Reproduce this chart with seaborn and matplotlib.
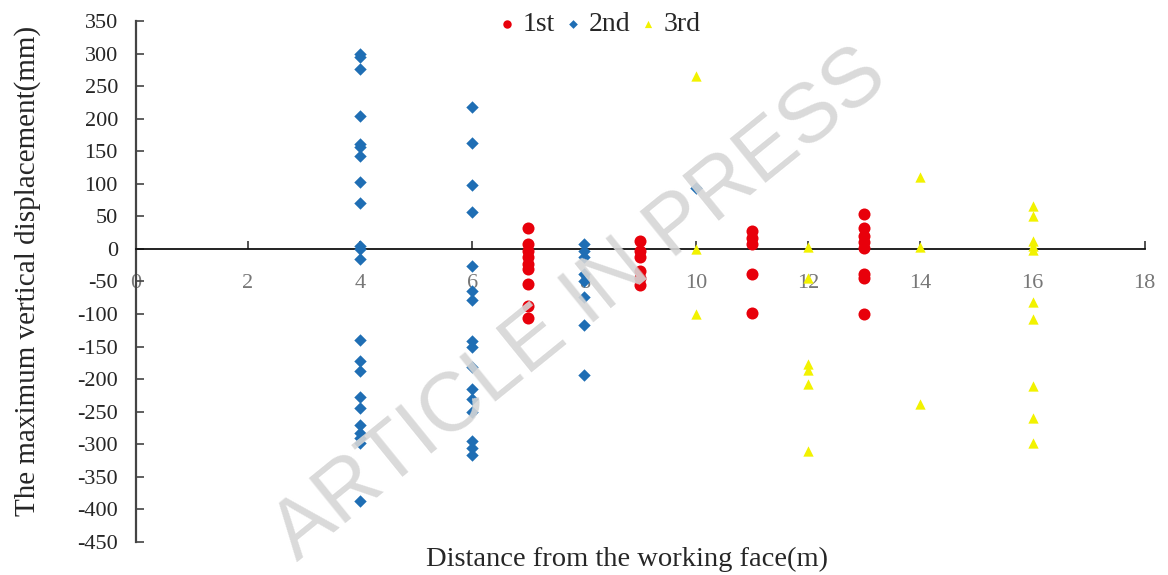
import matplotlib
matplotlib.use("Agg")
import matplotlib.pyplot as plt
import seaborn as sns
import pandas as pd

# Maximum vertical displacement readings (mm) by distance from the working face (m)
first_x = [7] * 9 + [9] * 6 + [11] * 5 + [13] * 8
first_y = [32, 8, -3, -13, -23, -31, -54, -88, -106,
           12, -3, -13, -34, -44, -55,
           27, 17, 7, -38, -98,
           54, 32, 20, 10, 2, -38, -45, -100]

second_x = [4] * 22 + [6] * 16 + [8] * 8 + [10]
second_y = [299, 294, 277, 204, 161, 156, 143, 102, 70, 5, 0, -15,
            -140, -172, -187, -228, -244, -270, -282, -290, -298, -387,
            218, 162, 98, 56, -26, -64, -78, -141, -150, -182, -215, -230,
            -250, -295, -305, -317,
            7, -3, -13, -39, -49, -74, -117, -193,
            94]

third_x = [10] * 3 + [12] * 6 + [14] * 3 + [16] * 10
third_y = [266, 0, -100,
           3, -44, -177, -186, -208, -310,
           110, 3, -238,
           66, 51, 12, 5, -2, -82, -108, -210, -260, -298]

series_names = ["1st", "2nd", "3rd"]
x_ticks = list(range(0, 19, 2))
y_ticks = list(range(-450, 351, 50))

df = pd.concat([
    pd.DataFrame({"distance": first_x, "disp": first_y, "round": series_names[0]}),
    pd.DataFrame({"distance": second_x, "disp": second_y, "round": series_names[1]}),
    pd.DataFrame({"distance": third_x, "disp": third_y, "round": series_names[2]}),
], ignore_index=True)

sns.set_theme(style="white")
plt.rcParams["font.family"] = ["Liberation Serif", "DejaVu Serif"]

fig = plt.figure(figsize=(11.68, 5.75), dpi=100)
ax = fig.add_axes([0.1164, 0.0574, 0.8636, 0.9061])

palette = {"1st": "#e8000b", "2nd": "#1f6eb4", "3rd": "#f2f200"}
markers = {"1st": "o", "2nd": "D", "3rd": "^"}
sizes = {"1st": 75, "2nd": 40, "3rd": 55}

for name in series_names:
    sub = df[df["round"] == name]
    sns.scatterplot(data=sub, x="distance", y="disp", ax=ax, color=palette[name],
                    marker=markers[name], s=sizes[name], linewidth=0,
                    label=name, zorder=3)

ax.set_xlim(0, 18)
ax.set_ylim(-450, 350)
ax.set_xticks(x_ticks)
ax.set_yticks(y_ticks)
ax.set_xticklabels([str(v) for v in x_ticks])
ax.set_yticklabels([str(v) for v in y_ticks])

ax.spines["top"].set_visible(False)
ax.spines["right"].set_visible(False)
ax.spines["bottom"].set_position(("data", 0))
ax.spines["bottom"].set_color("#111111")
ax.spines["bottom"].set_linewidth(1.3)
ax.spines["left"].set_color("#444444")
ax.spines["left"].set_linewidth(1.6)

ax.tick_params(axis="x", direction="in", length=6, width=1.2, color="#333333",
               labelsize=16, labelcolor="#777777", pad=18, bottom=True)
ax.tick_params(axis="y", direction="in", length=6, width=1.2, color="#444444",
               labelsize=16, labelcolor="#262626", pad=13, left=True)

ax.set_xlabel("Distance from the working face(m)", fontsize=20.5, color="#262626")
ax.set_ylabel("The maximum vertical displacement(mm)", fontsize=21, color="#262626")
ax.xaxis.set_label_coords(0.487, -0.01, transform=ax.transAxes)
ax.xaxis.label.set_verticalalignment("top")
ax.yaxis.set_label_coords(-0.094, 0.52)

leg = ax.legend(loc="upper center", bbox_to_anchor=(0.457, 1.066), ncol=3, frameon=False,
                fontsize=20, handletextpad=0.05, columnspacing=0.15, markerscale=0.7,
                handlelength=1.0)

fig.text(0.497, 0.47, "ARTICLE IN PRESS", rotation=39, fontsize=60,
         color="#d6d6d6", family="Liberation Sans", ha="center", va="center",
         zorder=10, alpha=0.9)

fig.savefig("out.png", dpi=100, facecolor="white")
